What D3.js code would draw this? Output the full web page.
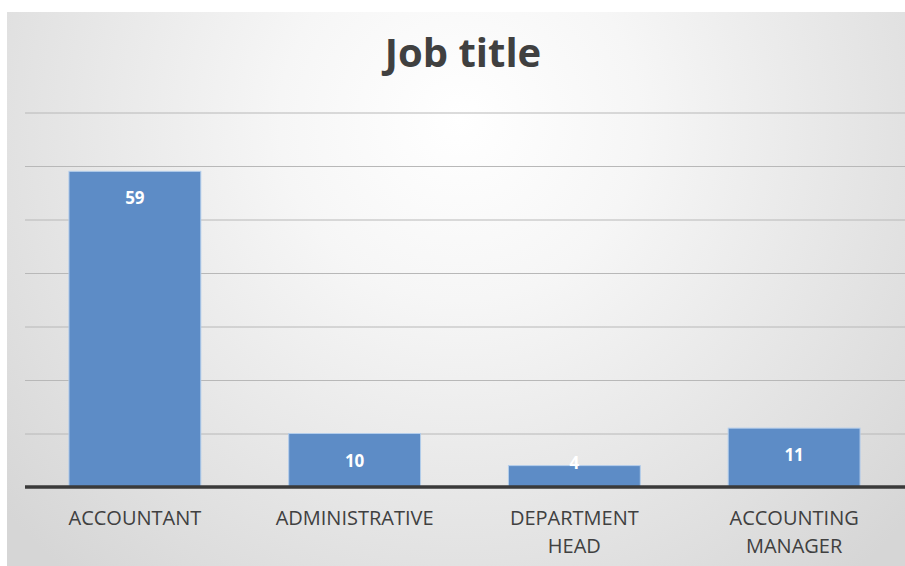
<!DOCTYPE html>
<html>
<head>
	<meta charset="utf-8">
	<title>Job title</title>
	<style>
	body { margin: 0; background: #fff; }
	svg { display: block; }
	</style>
	<script src="https://cdn.jsdelivr.net/npm/d3@7"></script>
</head>
<body>
	<script type="text/javascript">

		// Data
		let categories = ['ACCOUNTANT', 'ADMINISTRATIVE', 'DEPARTMENT HEAD', 'ACCOUNTING MANAGER'];
		let values = [59, 10, 4, 11];
		let yTicks = [0, 10, 20, 30, 40, 50, 60, 70];

		let W = 905, H = 566;

		let svg = d3.select('body').append('svg')
					.attr('width', W)
					.attr('height', H);

		// 背景 漸層
		let defs = svg.append('defs');
		let grad = defs.append('radialGradient')
					.attr('id', 'bg')
					.attr('gradientUnits', 'userSpaceOnUse')
					.attr('cx', 460).attr('cy', 120)
					.attr('r', 600);
		grad.append('stop').attr('offset', '0%').attr('stop-color', '#ffffff');
		grad.append('stop').attr('offset', '30%').attr('stop-color', '#f6f6f6');
		grad.append('stop').attr('offset', '100%').attr('stop-color', '#d6d6d6');

		svg.append('rect')
			.attr('x', 7).attr('y', 12)
			.attr('width', W - 7).attr('height', H - 12)
			.attr('fill', 'url(#bg)');

		// 比例尺
		let x0 = 25, x1 = 904, yBase = 487, yTop = 112.5;
		let xScale = d3.scaleBand()
						.domain(categories)
						.range([x0, x1])
						.paddingInner(0.4)
						.paddingOuter(0.2);
		let yScale = d3.scaleLinear().domain([0, 70]).range([yBase, yTop]);

		// 格線
		let grid = svg.append('g')
						.attr('transform', 'translate(' + x0 + ',0)')
						.call(d3.axisLeft(yScale).tickValues(yTicks.slice(1)).tickSize(-(x1 - x0 + 1)).tickFormat(''));
		grid.select('.domain').remove();
		grid.selectAll('line').attr('stroke', '#b8b8b8').attr('stroke-width', 1);

		// 長條
		svg.selectAll('rect.bar').data(values).enter().append('rect')
			.attr('class', 'bar')
			.attr('x', function(d, i) { return xScale(categories[i]); })
			.attr('y', function(d) { return yScale(d); })
			.attr('width', xScale.bandwidth())
			.attr('height', function(d) { return yBase - yScale(d); })
			.attr('fill', '#5d8cc6')
			.attr('stroke', '#b3cdeb')
			.attr('stroke-width', 1);

		// 數值標籤
		svg.selectAll('text.val').data(values).enter().append('text')
			.attr('class', 'val')
			.attr('x', function(d, i) { return xScale(categories[i]) + xScale.bandwidth() / 2; })
			.attr('y', function(d) { return Math.min(yScale(d) + 27, yBase - 24) + 6; })
			.attr('text-anchor', 'middle')
			.style('font-family', '"Open Sans", sans-serif')
			.style('font-size', '17px')
			.style('font-weight', 'bold')
			.style('fill', '#ffffff')
			.text(function(d) { return d; });

		// X軸
		let xAxis = svg.append('g')
						.attr('transform', 'translate(0,' + yBase + ')')
						.call(d3.axisBottom(xScale).tickSize(0).tickPadding(0));
		xAxis.select('.domain')
			.attr('d', 'M' + x0 + ',0H' + W)
			.attr('stroke', '#3a3a3a')
			.attr('stroke-width', 3.5);
		xAxis.selectAll('text').each(function(d) {
			let t = d3.select(this);
			let words = d.split(' ');
			t.text(null)
			 .attr('y', 0)
			 .attr('dy', null)
			 .style('font-family', '"Open Sans", sans-serif')
			 .style('font-size', '20px')
			 .style('fill', '#404040');
			words.forEach(function(w, k) {
				t.append('tspan')
				 .attr('x', 0)
				 .attr('y', 38 + k * 28)
				 .text(w);
			});
		});

		// 標題
		svg.append('text')
			.attr('x', 463)
			.attr('y', 67)
			.attr('text-anchor', 'middle')
			.style('font-family', '"Open Sans", sans-serif')
			.style('font-size', '40px')
			.style('font-weight', 'bold')
			.style('fill', '#404040')
			.text('Job title');

	</script>
</body>
</html>
